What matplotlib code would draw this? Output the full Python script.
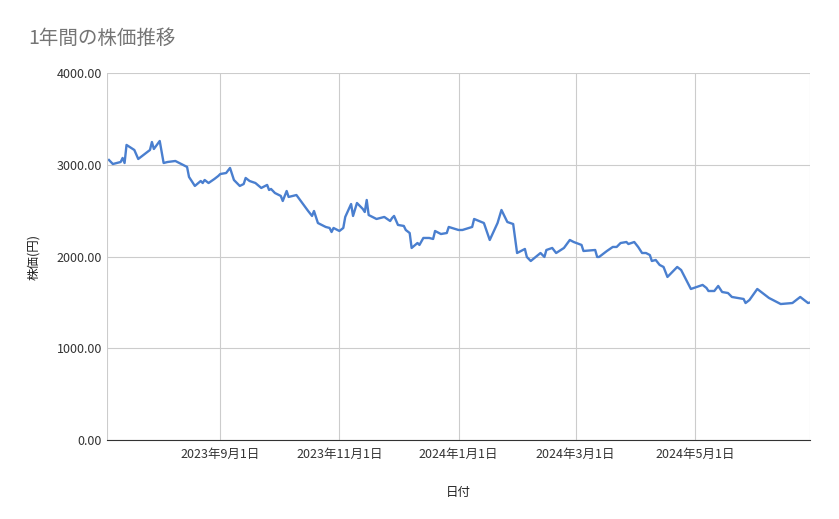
import numpy as np
import pandas as pd
import matplotlib
matplotlib.use("Agg")
import matplotlib.pyplot as plt
import matplotlib.dates as mdates
from matplotlib.ticker import FuncFormatter

plt.rcParams["font.family"] = ["Noto Sans CJK JP", "DejaVu Sans"]

# 読み取り値: 開始日からの日数と株価
START = pd.Timestamp("2023-07-05")
DAYS = [1, 3, 7, 8, 9, 10, 14, 16, 22, 23, 24, 27, 29, 31, 35, 38, 41, 42, 45, 48,
        49, 50, 52, 55, 57, 58, 61, 63, 65, 68, 70, 71, 73, 76, 79, 82, 83, 84, 86, 89,
        90, 92, 93, 97, 100, 103, 105, 106, 108, 112, 114, 115, 116, 119, 121, 122, 125, 126, 128, 131,
        132, 133, 134, 138, 142, 145, 146, 147, 149, 152, 153, 155, 156, 159, 160, 162, 165, 167, 168, 171,
        174, 175, 180, 182, 187, 188, 193, 196, 200, 202, 205, 208, 210, 214, 215, 217, 222, 224, 225, 228,
        230, 234, 237, 239, 243, 244, 250, 251, 252, 256, 259, 261, 263, 266, 267, 270, 272, 274, 276, 278,
        279, 281, 283, 285, 287, 292, 294, 299, 305, 307, 308, 311, 313, 315, 318, 320, 323, 326, 327, 329,
        333, 335, 339, 345, 351, 355, 359, 361]
PRICES = [3052, 3008, 3030, 3074, 3019, 3216, 3161, 3063, 3161, 3248, 3172, 3259, 3019, 3030, 3041, 3008, 2976, 2867, 2769, 2823,
          2801, 2834, 2801, 2845, 2878, 2899, 2910, 2965, 2834, 2769, 2790, 2856, 2823, 2801, 2747, 2780, 2725, 2736, 2692, 2660,
          2605, 2714, 2649, 2670, 2583, 2496, 2442, 2496, 2365, 2322, 2311, 2267, 2311, 2278, 2311, 2431, 2572, 2442, 2583, 2518,
          2485, 2616, 2452, 2409, 2431, 2387, 2420, 2442, 2344, 2333, 2289, 2256, 2093, 2147, 2126, 2202, 2202, 2191, 2278, 2245,
          2256, 2322, 2289, 2289, 2322, 2409, 2365, 2180, 2365, 2507, 2376, 2354, 2038, 2082, 1995, 1951, 2038, 1995, 2071, 2093,
          2038, 2093, 2180, 2158, 2126, 2060, 2071, 1995, 1995, 2060, 2104, 2104, 2147, 2158, 2136, 2158, 2104, 2038, 2038, 2016,
          1951, 1962, 1908, 1886, 1777, 1886, 1853, 1646, 1690, 1657, 1624, 1624, 1679, 1613, 1602, 1559, 1548, 1537, 1493, 1526,
          1646, 1613, 1548, 1482, 1493, 1559, 1493, 1504]
TICK_DATES = ["2023-09-01", "2023-11-01", "2024-01-01", "2024-03-01", "2024-05-01"]
Y_TICKS = [0, 1000, 2000, 3000, 4000]

dates = START + pd.to_timedelta(DAYS, unit="D")

fig = plt.figure(figsize=(8.39, 5.19), dpi=100)
ax = fig.add_axes([107 / 839, 79 / 519, 703 / 839, 367 / 519])
ax.plot(dates, PRICES, color="#4a7fcf", lw=1.7)

ax.set_xlim(START, START + pd.Timedelta(days=360))
ax.set_ylim(0, 4000)
ticks = pd.to_datetime(TICK_DATES)
ax.set_xticks(ticks)
ax.set_xticklabels([f"{d.year}年{d.month}月{d.day}日" for d in ticks], fontsize=9, color="#333333")
ax.set_yticks(Y_TICKS)
ax.yaxis.set_major_formatter(FuncFormatter(lambda v, _: f"{v:.2f}"))
ax.tick_params(axis="y", labelsize=9, colors="#333333", length=0)
ax.tick_params(axis="x", length=0, pad=6)
ax.grid(True, color="#cccccc", lw=0.8)
ax.set_axisbelow(True)
for s in ["top", "right", "left"]:
    ax.spines[s].set_visible(False)
ax.spines["bottom"].set_color("#333333")
ax.axvline(START, color="#cccccc", lw=0.8)
ax.axvline(START + pd.Timedelta(days=360), color="#cccccc", lw=0.8)

ax.set_xlabel("日付", fontsize=9, color="#222222", labelpad=18)
ax.set_ylabel("株価(円)", fontsize=9, color="#222222", labelpad=12)
fig.text(28 / 839, 1 - 38 / 519, "1年間の株価推移", fontsize=14, color="#757575", va="center")

fig.savefig("out.png", dpi=100)
